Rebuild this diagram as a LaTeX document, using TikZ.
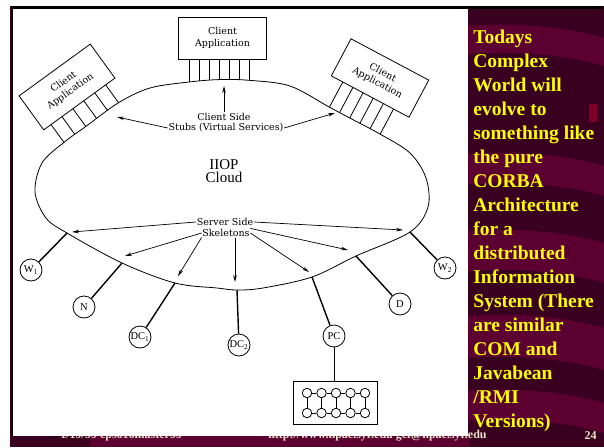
\documentclass[tikz,border=0pt]{standalone}
\usepackage{fontspec}
\setmainfont{DejaVu Serif}
\newfontfamily\tnr{Liberation Serif}
\usetikzlibrary{arrows.meta,calc}
\definecolor{maroonbg}{HTML}{3A0020}
\definecolor{maroonlt}{HTML}{5C0032}
\definecolor{slideyellow}{HTML}{FFFF00}
\definecolor{footcream}{HTML}{EEE2C8}
\begin{document}
\begin{tikzpicture}[x=1pt,y=-1pt,line width=0.8pt,
  lbl/.style={font=\fontsize{9.5}{11}\selectfont,inner sep=0.5pt},
  appbox/.style={draw,fill=white,minimum width=88pt,minimum height=42pt,align=center,
    font=\fontsize{9.5}{11.5}\selectfont,inner sep=0pt},
  host/.style={draw,circle,fill=white,minimum size=22pt,inner sep=0pt,
    font=\tnr\fontsize{10.5}{10}\selectfont},
  proc/.style={draw,circle,minimum size=9.5pt,inner sep=0pt},
  arr/.style={-{Stealth[length=7pt,width=3.5pt]},line width=0.7pt},
  conn/.style={line width=1.4pt},
  sidetext/.style={anchor=base west,inner sep=0pt,text=slideyellow,
    font=\tnr\bfseries\fontsize{19.5}{24}\selectfont},
  foot/.style={inner sep=0pt,text=footcream,font=\tnr\bfseries\fontsize{12}{12}\selectfont}
]
\useasboundingbox (0,0) rectangle (604,447);
% ---------- slide background ----------
\fill[white] (0,0) rectangle (604,447);
\fill[maroonbg] (10,6) rectangle (604,447);
\begin{scope}
  \clip (10,6) rectangle (604,447);
  \foreach \o/\t in {0/28,128/30,205/40,290/42,365/30}{
    \fill[maroonlt] (468,26+\o) .. controls (520,22+\o) and (570,28+\o) .. (604,38+\o)
      -- (604,38+\o+\t) .. controls (570,28+\o+\t) and (520,22+\o+\t) .. (468,26+\o+\t) -- cycle;
  }
  \fill[maroonlt] (90,436) rectangle (470,447);
  \fill[maroonlt!80!red] (589,104) rectangle (597,122);
\end{scope}
% ---------- footer ----------
\node[foot,anchor=base west] (f1) at (60,438.5) {1/19/99 cps616master99};
\node[foot,anchor=base east] (f2) at (487,438.5) {http://www.npac.syr.edu gcf@npac.syr.edu};
\node[foot,anchor=base east] (f3) at (597,439) {24};
% ---------- white panel ----------
\fill[white] (12,8) rectangle (468,436);
\draw[line width=2.2pt] (12,436) -- (12,7.5) -- (603,7.5);
% ---------- side text ----------
\foreach \t [count=\i from 0] in {Todays,Complex,World will,evolve to,something like,
  the pure,CORBA,Architecture,for a,distributed,Information,System (There,
  are similar,COM and,Javabean,/RMI,Versions)}{
  \node[sidetext] (t\i) at (473,43.5+24*\i) {\t};
}
% ---------- client applications ----------
\node[appbox] (cat) at (222.5,38) {Client\\Application};
\foreach \x/\y [count=\i] in {189/82,199/81,209/80.2,219/79.6,229/79.4,239/79.6,249/80.3}{
  \coordinate (ts\i) at (\x,\y);
  \draw (\x,59) -- (ts\i);
}
\begin{scope}[shift={(67,87)},rotate=36]
  \node[appbox,transform shape] (cal) at (0,0) {Client\\Application};
  \foreach \x [count=\i] in {-35,-21.5,-8,5.5,19,32.5}{
    \coordinate (ls\i) at (\x,43);
    \draw (\x,21) -- (ls\i);
  }
\end{scope}
\begin{scope}[shift={(380,78)},rotate=-28]
  \node[appbox,transform shape] (car) at (0,0) {Client\\Application};
  \foreach \x [count=\i] in {-31,-19.5,-8,3.5,15,26.5}{
    \coordinate (rs\i) at (\x,49.5);
    \draw (\x,21) -- (rs\i);
  }
\end{scope}
% ---------- attach points on the cloud ----------
\coordinate (w1a) at (67,233);
\coordinate (na) at (122,263);
\coordinate (dc1a) at (175,283);
\coordinate (dc2a) at (237,290);
\coordinate (pca) at (312,277);
\coordinate (da) at (356,256);
\coordinate (w2a) at (410,232);
% ---------- cloud ----------
\draw plot[smooth cycle,tension=0.55] coordinates {(35,192) (42,163) (ls1) (ls3) (ls6)
  (150,88) (ts1) (ts4) (ts7) (290,86) (rs1) (rs3) (rs6) (410,153) (426,178) (428,207)
  (w2a) (da) (pca) (263,288) (dc2a) (217,288) (dc1a) (na) (w1a) (46,218)};
\node[font=\tnr\fontsize{15}{13}\selectfont,align=center,inner sep=0pt] (iiop) at (224,171) {IIOP\\Cloud};
% ---------- client side labels ----------
\node[lbl] (cs) at (224,117) {Client Side};
\node[lbl] (st) at (226,128) {Stubs (Virtual Services)};
\coordinate (c0) at (224,86);
\coordinate (c1) at (117,117);
\coordinate (c2) at (335,113);
\draw[arr] (cs.north) -- (cs.north |- c0);
\draw[arr] (st.west) -- (c1);
\draw[arr] (st.east) -- (c2);
% ---------- server side labels ----------
\node[lbl] (ss) at (225,222) {Server Side};
\node[lbl] (sk) at (226,233) {Skeletons};
\coordinate (s1) at (72,232);
\coordinate (s2) at (125,256);
\coordinate (s3) at (178,276);
\coordinate (s4) at (235,282);
\coordinate (s5) at (309,272);
\coordinate (s6) at (348,250);
\coordinate (s7) at (403,230);
\draw[arr] (ss.west) -- (s1);
\draw[arr] (sk.west) -- (s2);
\draw[arr] (sk.south west) -- (s3);
\draw[arr] (sk.south -| s4) -- (s4);
\draw[arr] (sk.east) -- (s5);
\draw[arr] (sk.north east) -- (s6);
\draw[arr] (ss.east) -- (s7);
% ---------- hosts ----------
\node[host] (w1) at (31,270) {W\textsubscript{1}};
\node[host] (n) at (84,307) {N};
\node[host] (dc1) at (140,337) {DC\textsubscript{1}};
\node[host] (dc2) at (239,345) {DC\textsubscript{2}};
\node[host] (pc) at (334,336) {PC};
\node[host] (d) at (400,304) {D};
\node[host] (w2) at (445,268) {W\textsubscript{2}};
\draw[conn] (w1a) -- (w1);
\draw[conn] (na) -- (n);
\draw[conn] (dc1a) -- (dc1);
\draw[conn] (dc2a) -- (dc2);
\draw[conn] (pca) -- (pc);
\draw[conn] (da) -- (d);
\draw[conn] (w2a) -- (w2);
% ---------- cluster ----------
\node[draw,fill=white,minimum width=84pt,minimum height=43pt,inner sep=0pt] (pcl) at (335,402.5) {};
\draw (pc) -- (pc |- pcl.north);
\foreach \i/\x in {1/307,2/321.5,3/336,4/350.5,5/365}{
  \node[proc] (pa\i) at (\x,393) {};
  \node[proc] (pb\i) at (\x,413) {};
  \draw (pa\i) -- (pb\i);
}
\foreach \i/\j in {1/2,2/3,3/4,4/5}{
  \draw (pa\i) -- (pa\j);
  \draw (pb\i) -- (pb\j);
}
\end{tikzpicture}
\end{document}
